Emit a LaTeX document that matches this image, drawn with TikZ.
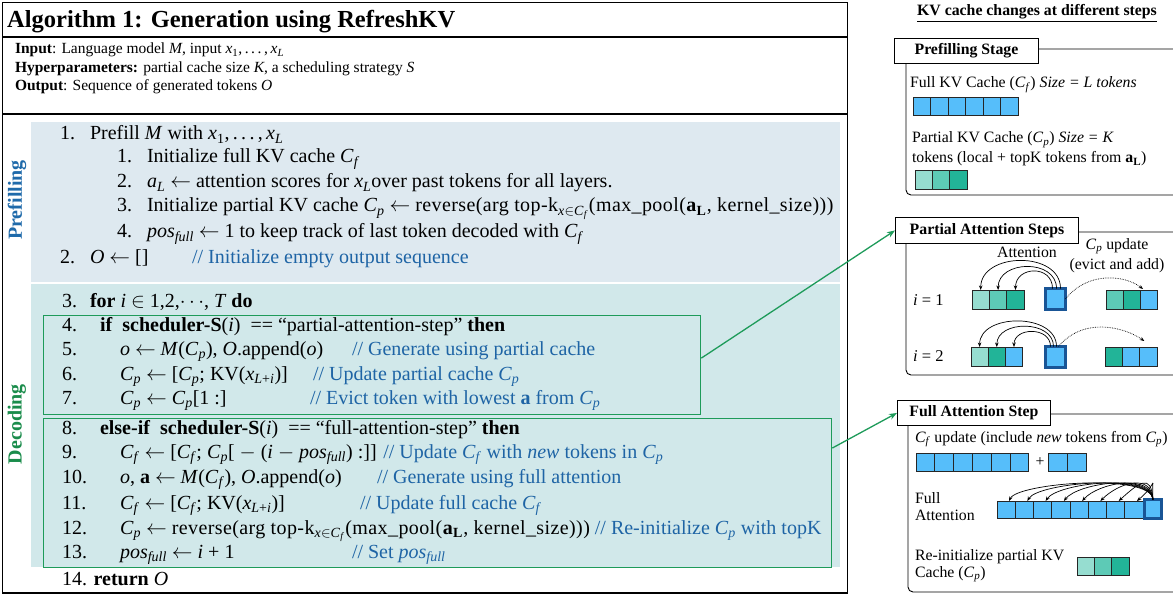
\documentclass[tikz,border=0pt]{standalone}
\usepackage{fontspec}
\setmainfont{Liberation Serif}
\usetikzlibrary{arrows.meta,calc}

\definecolor{cmt}{RGB}{30,100,165}
\definecolor{preblue}{RGB}{31,106,170}
\definecolor{decgreen}{RGB}{26,140,75}
\definecolor{bgpre}{RGB}{222,233,240}
\definecolor{bgdec}{RGB}{209,232,234}
\definecolor{boxgreen}{RGB}{30,155,90}
\definecolor{tokblue}{RGB}{86,190,250}
\definecolor{qborder}{RGB}{25,85,150}
\definecolor{gA}{RGB}{150,221,208}
\definecolor{gB}{RGB}{93,202,182}
\definecolor{gC}{RGB}{34,180,152}

\newcommand{\sbs}[1]{\textsubscript{#1}}
\newcommand{\Cf}{\textit{C}\sbs{\textit{f}}}
\newcommand{\Cp}{\textit{C}\sbs{\textit{p}}}
\newcommand{\posfull}{\textit{pos}\sbs{\textit{full}}}
\newcommand{\xL}{\textit{x}\sbs{\textit{L}}}
\newcommand{\xLi}{\textit{x}\sbs{\textit{L}+\textit{i}}}
\newcommand{\aL}{\textbf{a}\sbs{\textbf{L}}}
\newcommand{\getsarrow}{\ensuremath{\leftarrow}}
\newcommand{\xrange}{\textit{x}\sbs{1},\,.\,.\,.\,,\,\xL}
\newcommand{\bodyfont}{\fontsize{20}{24}\selectfont}
\newcommand{\headfont}{\fontsize{15.5}{18}\selectfont}
\newcommand{\panelfont}{\fontsize{15.8}{18}\selectfont}
% slightly looser setting for the long top-k expressions
\newcommand{\wide}[1]{{\addfontfeature{LetterSpace=2}#1}}

\tikzset{
  txt/.style={anchor=base west, inner sep=0pt, outer sep=0pt, font=\bodyfont},
  htxt/.style={anchor=base west, inner sep=0pt, outer sep=0pt, font=\headfont},
  ctxt/.style={txt, text=cmt},
  ptxt/.style={anchor=base west, inner sep=0pt, outer sep=0pt, font=\panelfont},
  gbox/.style={draw=boxgreen, line width=1.3pt, anchor=north west, inner sep=0pt},
  ptitle/.style={draw=black, line width=0.9pt, fill=white, anchor=north west,
    inner sep=0pt, font=\panelfont\bfseries},
  pframe/.style={draw=black, line width=0.9pt, rounded corners=5pt},
  tok/.style={draw=black!85, line width=0.8pt, anchor=north west, inner sep=0pt,
    outer sep=0pt, minimum height=18pt},
  qtok/.style={draw=qborder, line width=3pt, fill=tokblue, anchor=north west,
    inner sep=0pt, outer sep=0pt},
  att/.style={black, line width=0.7pt, -{Stealth[length=4.5pt,width=3.5pt]}},
  dotarr/.style={black, line width=0.7pt, densely dotted, -{Stealth[length=4.5pt,width=3.5pt]}},
  gconn/.style={boxgreen, line width=1.3pt, -{Stealth[length=8pt,width=6pt]}},
}

\begin{document}
\begin{tikzpicture}[x=1pt,y=-1pt]
\path[use as bounding box, clip] (0,0) rectangle (1173,596);
\fill[white] (0,0) rectangle (1173,596);

% ---------------- algorithm box ----------------
\fill[bgpre] (31,122) rectangle (840,282);
\fill[bgdec] (31,284) rectangle (840,567);
\draw[line width=1.5pt] (2.5,2.5) rectangle (847.5,593);
\draw[line width=1.2pt] (2.5,37) -- (847.5,37);
\draw[line width=1.5pt] (2.5,114) -- (847.5,114);

\node[anchor=base west, inner sep=0pt, font=\fontsize{24.5}{29}\selectfont\bfseries] (title) at (7,28)
  {Algorithm 1: Generation using RefreshKV};

\node[htxt] (inp) at (15,54) {\textbf{Input}: Language model \textit{M}, input \xrange};
\node[htxt] (hyp) at (15,72.5) {\textbf{Hyperparameters:} partial cache size \textit{K}, a scheduling strategy \textit{S}};
\node[htxt] (outp) at (15,91) {\textbf{Output}: Sequence of generated tokens \textit{O}};

\node[rotate=90, inner sep=0pt, text=preblue, font=\fontsize{20}{24}\selectfont\bfseries] (lpre) at (17,200) {Prefilling};
\node[rotate=90, inner sep=0pt, text=decgreen, font=\fontsize{20}{24}\selectfont\bfseries] (ldec) at (17,424) {Decoding};

% prefilling lines
\node[txt] (n1) at (60,140) {1.};
\node[txt] (t1) at (90,140) {Prefill \textit{M} with \xrange};
\node[txt] (n11) at (117,163) {1.};
\node[txt] (t11) at (147,163) {Initialize full KV cache \Cf};
\node[txt] (n12) at (117,188) {2.};
\node[txt] (t12) at (147,188) {\textit{a}\sbs{\textit{L}} \getsarrow\ attention scores for \xL over past tokens for all layers.};
\node[txt] (n13) at (117,212) {3.};
\node[txt] (t13) at (147,212) {Initialize partial KV cache \Cp\ \getsarrow\ \wide{reverse(arg top-k\sbs{\textit{x}$\in$\Cf}(max\_pool(\aL, kernel\_size)))}};
\node[txt] (n14) at (117,238) {4.};
\node[txt] (t14) at (147,238) {\posfull\ \getsarrow\ 1 to keep track of last token decoded with \Cf};
\node[txt] (n2) at (60,264) {2.};
\node[txt] (t2) at (90,264) {\textit{O} \getsarrow\ []};
\node[ctxt] (c2) at (192,264) {// Initialize empty output sequence};

% decoding lines
\node[txt] (n3) at (62,307) {3.};
\node[txt] (t3) at (90,307) {\textbf{for} \textit{i} $\in$ 1,2,$\cdots$, \textit{T} \textbf{do}};

\node[gbox, minimum width=657pt, minimum height=99pt] (pbox) at (43,315) {};
\node[gbox, minimum width=788pt, minimum height=149pt] (fbox) at (43,418) {};

\node[txt] (n4) at (62,331) {4.};
\node[txt] (t4) at (100,331) {\textbf{if}\ \ \textbf{scheduler-S}(\textit{i})\ \ == “partial-attention-step” \textbf{then}};
\node[txt] (n5) at (62,355) {5.};
\node[txt] (t5) at (120,355) {\textit{o} \getsarrow\ \textit{M}(\Cp), \textit{O}.append(\textit{o})};
\node[ctxt] (c5) at (352,355) {// Generate using partial cache};
\node[txt] (n6) at (62,380) {6.};
\node[txt] (t6) at (120,380) {\Cp\ \getsarrow\ [\Cp; KV(\xLi)]};
\node[ctxt] (c6) at (313,380) {// Update partial cache \Cp};
\node[txt] (n7) at (62,404) {7.};
\node[txt] (t7) at (120,404) {\Cp\ \getsarrow\ \Cp[1 :]};
\node[ctxt] (c7) at (310,404) {// Evict token with lowest \textbf{a} from \Cp};

\node[txt] (n8) at (62,434) {8.};
\node[txt] (t8) at (100,434) {\textbf{else-if}\ \ \textbf{scheduler-S}(\textit{i})\ \ == “full-attention-step” \textbf{then}};
\node[txt] (n9) at (62,458) {9.};
\node[txt] (t9) at (120,458) {\Cf\ \getsarrow\ [\Cf; \Cp[ $-$ (\textit{i} $-$ \posfull) :]] \textcolor{cmt}{// Update \Cf\ with \textit{new} tokens in \Cp}};
\node[txt] (n10) at (62,483) {10.};
\node[txt] (t10) at (120,483) {\textit{o}, \textbf{a} \getsarrow\ \textit{M}(\Cf), \textit{O}.append(\textit{o})};
\node[ctxt] (c10) at (377,483) {// Generate using full attention};
\node[txt] (n11b) at (62,509) {11.};
\node[txt] (t11b) at (120,509) {\Cf\ \getsarrow\ [\Cf; KV(\xLi)]};
\node[ctxt] (c11) at (360,509) {// Update full cache \Cf};
\node[txt] (n12b) at (62,534) {12.};
\node[txt] (t12b) at (120,534) {\Cp\ \getsarrow\ \wide{reverse(arg top-k\sbs{\textit{x}$\in$\Cf}(max\_pool(\aL, kernel\_size)))}\ \textcolor{cmt}{// Re-initialize \Cp\ with topK}};
\node[txt] (n13b) at (62,558) {13.};
\node[txt] (t13b) at (120,558) {\posfull\ \getsarrow\ \textit{i} + 1};
\node[ctxt] (c13) at (352,558) {// Set \posfull};
\node[txt] (n14b) at (62,585) {14. \textbf{return} \textit{O}};

% ---------------- right-hand panels ----------------
\node[inner sep=0pt, font=\panelfont\bfseries] (hdr) at (1037,13) {\underline{KV cache changes at different steps}};

% prefilling stage
\draw[pframe] (906,49) rectangle (1200,195);
\node[ptitle, minimum width=144pt, minimum height=25pt] (pt1) at (894,38) {Prefilling Stage};
\node[ptxt] (f1) at (910,88) {Full KV Cache (\Cf) \textit{Size = L tokens}};
\foreach \k in {1,...,6}
  \node[tok, fill=tokblue, minimum width=17.5pt] (pf\k) at ({913+17.5*(\k-1)},97) {};
\node[ptxt] (f2) at (912,143) {Partial KV Cache (\Cp) \textit{Size = K}};
\node[ptxt] (f3) at (912,163) {tokens (local + topK tokens from \aL)};
\foreach \k/\col in {1/gA,2/gB,3/gC}
  \node[tok, fill=\col, minimum width=17.4pt, minimum height=19pt] (pp\k) at ({915+17.4*(\k-1)},170) {};

% partial attention steps
\draw[pframe] (906,232) rectangle (1200,375);
\node[ptitle, minimum width=183pt, minimum height=26pt] (pt2) at (895,217) {Partial Attention Steps};
\node[inner sep=0pt, font=\panelfont] (attl) at (1027,252) {Attention};
\node[inner sep=0pt, font=\panelfont] (updl) at (1117,246) {\Cp\ update};
\node[inner sep=0pt, font=\panelfont] (updl2) at (1117,266) {(evict and add)};

\node[anchor=west, inner sep=0pt, font=\fontsize{16.5}{19}\selectfont] (i1) at (913,300) {\textit{i} = 1};
\foreach \k/\col in {1/gA,2/gB,3/gC}
  \node[tok, fill=\col, minimum width=17.4pt, minimum height=19pt] (pa\k) at ({972+17.4*(\k-1)},290) {};
\node[qtok, minimum width=20pt, minimum height=21pt] (q1) at (1045.5,288.5) {};
\foreach \k/\col in {1/gB,2/gC,3/tokblue}
  \node[tok, fill=\col, minimum width=17.2pt, minimum height=19pt] (ra\k) at ({1106+17.2*(\k-1)},290) {};

\draw[att] ($(q1.north)+(5,0)$) .. controls +(0,-38) and +(0,-38) .. (pa1.north);
\draw[att] ($(q1.north)+(1,0)$) .. controls +(0,-30) and +(0,-30) .. (pa2.north);
\draw[att] ($(q1.north)+(-3,0)$) .. controls +(0,-24) and +(0,-24) .. (pa3.north);
\draw[dotarr] (q1.east) .. controls +(22,-28) and +(-18,-14) .. ($(ra3.north)+(-6,-1)$);

\node[anchor=west, inner sep=0pt, font=\fontsize{16.5}{19}\selectfont] (i2) at (913,356) {\textit{i} = 2};
\foreach \k/\col in {1/gA,2/gC,3/tokblue}
  \node[tok, fill=\col, minimum width=17.2pt, minimum height=19pt] (pb\k) at ({971+17.2*(\k-1)},347) {};
\node[qtok, minimum width=20pt, minimum height=21pt] (q2) at (1045.5,346.5) {};
\foreach \k/\col in {1/gC,2/tokblue,3/tokblue}
  \node[tok, fill=\col, minimum width=17.3pt, minimum height=19pt] (rb\k) at ({1105+17.3*(\k-1)},347) {};

\draw[att] ($(q2.north)+(1,0)$) .. controls +(0,-34) and +(0,-34) .. (pb1.north);
\draw[att] ($(q2.north)+(-2,0)$) .. controls +(0,-27) and +(0,-27) .. (pb2.north);
\draw[att] ($(q2.north)+(-5,0)$) .. controls +(0,-20) and +(0,-20) .. (pb3.north);
\draw[dotarr] ($(q2.north)+(3,0)$) .. controls +(25,-30) and +(-20,-14) .. ($(rb3.north)+(-4,-6)$);

% full attention step
\draw[pframe] (908,414) rectangle (1200,592);
\node[ptitle, minimum width=153pt, minimum height=25pt] (pt3) at (897,400) {Full Attention Step};
\node[ptxt] (g1) at (915,442) {\Cf\ update (include \textit{new} tokens from \Cp)};
\foreach \k in {1,...,6}
  \node[tok, fill=tokblue, minimum width=18.8pt] (fu\k) at ({916+18.8*(\k-1)},453) {};
\node[inner sep=0pt, font=\panelfont] (plus) at (1040,462) {+};
\foreach \k in {1,2}
  \node[tok, fill=tokblue, minimum width=19pt] (fn\k) at ({1048+19*(\k-1)},453) {};

\node[ptxt] (g2) at (915,503) {Full};
\node[ptxt] (g3) at (915,520) {Attention};
\foreach \k in {1,...,8}
  \node[tok, fill=tokblue, minimum width=18.25pt, minimum height=17pt] (fc\k) at ({997+18.25*(\k-1)},501) {};
\node[qtok, minimum width=17pt, minimum height=19pt] (fq) at (1144.5,499.5) {};
\foreach \k in {1,...,8}
  \draw[att] (fq.north) .. controls +(-2,-27) and +({6+2*\k},-18) .. ($(fc\k.north)+(3,0)$);

\node[ptxt] (g4) at (915,560) {Re-initialize partial KV};
\node[ptxt] (g5) at (915,577) {Cache (\Cp)};
\foreach \k/\col in {1/gA,2/gB,3/gC}
  \node[tok, fill=\col, minimum width=17.4pt] (fr\k) at ({1077+17.4*(\k-1)},557) {};

% connectors from the algorithm to the panels
\draw[gconn] ($(pbox.north east)!0.43!(pbox.south east)$) -- (pt2.west);
\draw[gconn] ($(fbox.north east)!0.2!(fbox.south east)$) -- (pt3.west);
\end{tikzpicture}
\end{document}
